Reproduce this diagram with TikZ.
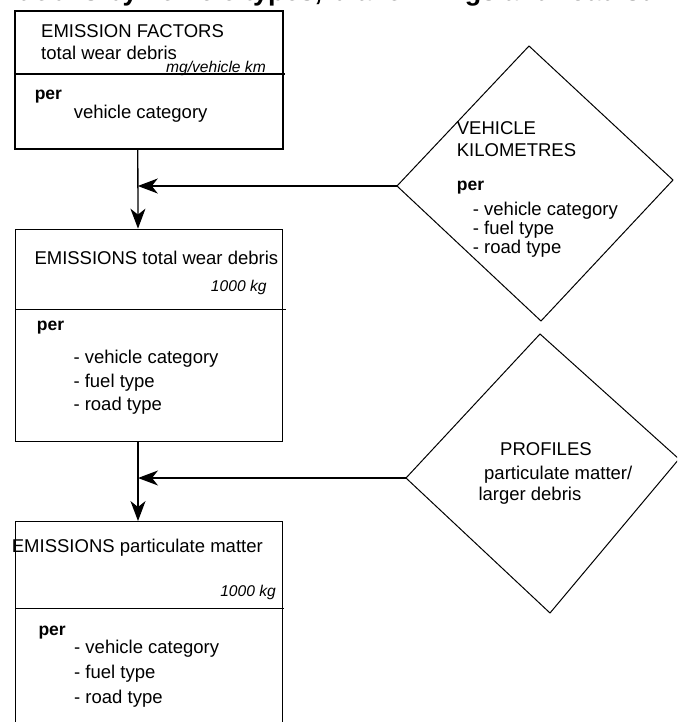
\documentclass[tikz,border=0pt]{standalone}
\usepackage{fontspec}
\setmainfont{Liberation Sans}
\usetikzlibrary{arrows.meta}
\tikzset{
  box/.style={draw, line width=1.3pt, rectangle, inner sep=0pt},
  divider/.style={line width=1.3pt},
  dia/.style={line width=1pt, line join=miter},
  arr/.style={line width=1.3pt, -{Stealth[length=20pt,width=15pt,inset=6pt]}},
  txt/.style={anchor=base west, inner sep=0pt, font=\fontsize{18.5}{22}\selectfont},
  unit/.style={anchor=base east, inner sep=0pt, font=\fontsize{15.6}{18}\selectfont\itshape},
  bper/.style={anchor=base west, inner sep=0pt, font=\fontsize{17.5}{20}\selectfont\bfseries},
  head/.style={anchor=base west, inner sep=0pt, font=\fontsize{27}{30}\selectfont\bfseries}
}
\begin{document}
\begin{tikzpicture}[x=1pt,y=-1pt]
\useasboundingbox (0,0) rectangle (677,722);
\clip (0,0) rectangle (677,722);
% cropped heading line at the top
\node[head] (hd) at (-51.6,0.5) {wear debris by vehicle types, brake linings and road surface};
% boxes
\node[box, minimum width=268pt, minimum height=138pt] (e1) at (149,80) {};
\node[box, minimum width=267pt, minimum height=212.4pt] (e2) at (149.2,335.5) {};
\node[box, minimum width=267pt, minimum height=238.3pt] (e3) at (149.2,640.85) {};
\draw[divider] (13.9,74) -- (284.8,74);
\draw[divider] (15.7,309.7) -- (285.7,309.7);
\draw[divider] (15.7,608.7) -- (284,608.7);
% box 1 text
\node[txt] (t1a) at (41,37.7) {EMISSION FACTORS};
\node[txt] (t1b) at (41,60) {total wear debris};
\node[unit] (t1u) at (266,72.5) {mg/vehicle km};
\node[bper] (t1p) at (34.6,100) {per};
\node[txt] (t1c) at (73.6,119) {vehicle category};
% box 2 text
\node[txt] (t2a) at (34.3,264) {EMISSIONS total wear debris};
\node[unit] (t2u) at (266.7,291.7) {1000 kg};
\node[bper] (t2p) at (36.7,330.7) {per};
\node[txt] (t2c) at (73.3,363) {- vehicle category};
\node[txt] (t2d) at (73.3,387) {- fuel type};
\node[txt] (t2e) at (73.3,410) {- road type};
% box 3 text
\node[txt] (t3a) at (11.7,552.7) {EMISSIONS particulate matter};
\node[unit] (t3u) at (276,596.7) {1000 kg};
\node[bper] (t3p) at (38.3,635.5) {per};
\node[txt] (t3c) at (74,653.3) {- vehicle category};
\node[txt] (t3d) at (74,678.3) {- fuel type};
\node[txt] (t3e) at (74,703.3) {- road type};
% diamonds
\coordinate (d1n) at (529,46);
\coordinate (d1e) at (673,180);
\coordinate (d1s) at (541,321);
\coordinate (d1w) at (397,186);
\draw[dia] (d1n) -- (d1e) -- (d1s) -- (d1w) -- cycle;
\coordinate (d2n) at (540,334);
\coordinate (d2e) at (679,459);
\coordinate (d2s) at (550,613);
\coordinate (d2w) at (406,478);
\draw[dia] (d2n) -- (d2e) -- (d2s) -- (d2w) -- cycle;
% diamond 1 text
\node[txt] (v1) at (456.7,135) {VEHICLE};
\node[txt] (v2) at (456.7,156.5) {KILOMETRES};
\node[bper] (vp) at (456.7,190) {per};
\node[txt] (v3) at (472.7,215) {- vehicle category};
\node[txt] (v4) at (472.7,234) {- fuel type};
\node[txt] (v5) at (472.7,253) {- road type};
% diamond 2 text
\node[txt] (p1) at (500,455.5) {PROFILES};
\node[txt] (p2) at (484,479) {particulate matter/};
\node[txt] (p3) at (478.3,500) {larger debris};
% connectors
\coordinate (j1) at ([xshift=-11.2pt]e1.south);
\coordinate (j2) at ([xshift=-11.2pt]e2.north);
\coordinate (j3) at ([xshift=-11.2pt]e2.south);
\coordinate (j4) at ([xshift=-11.2pt]e3.north);
\draw[arr] (j1) -- (j2);
\draw[arr] (d1w) -- (j1 |- d1w);
\draw[arr] (j3) -- (j4);
\draw[arr] (d2w) -- (j3 |- d2w);
\end{tikzpicture}
\end{document}
